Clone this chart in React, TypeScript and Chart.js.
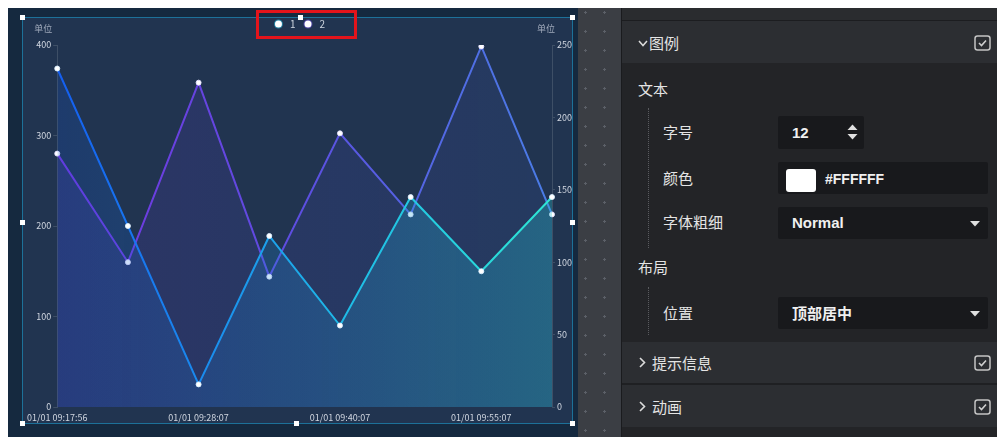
import React, { useEffect, useRef } from "react";
import { Chart, registerables } from "chart.js";

Chart.register(...registerables);

// ---- data ----
const categories = [
  "01/01 09:17:56",
  "01/01 09:22:56",
  "01/01 09:28:07",
  "01/01 09:34:07",
  "01/01 09:40:07",
  "01/01 09:47:37",
  "01/01 09:55:07",
  "01/01 10:02:07",
];
const series1 = [374, 200, 25, 189, 90, 232, 150, 232];
const series2 = [175, 100, 224, 90, 189, 133, 249, 133];
const seriesNames = ["1", "2"];
const leftTickValues = [0, 100, 200, 300, 400];
const rightTickValues = [0, 50, 100, 150, 200, 250];
const unitLabel = "单位";

const FONT = '"Noto Sans CJK SC", "Noto Sans", sans-serif';

function hGrad(chart: any, stops: [number, string][]) {
  const { ctx, chartArea } = chart;
  if (!chartArea) return stops[0][1];
  const g = ctx.createLinearGradient(chartArea.left, 0, chartArea.right, 0);
  stops.forEach(([o, c]) => g.addColorStop(o, c));
  return g;
}

const s1Line: [number, string][] = [
  [0, "#155ef0"],
  [0.3, "#1a8cee"],
  [0.6, "#1fbde6"],
  [1, "#2ee6d4"],
];
const s1Fill: [number, string][] = [
  [0, "rgba(20,90,220,0.2)"],
  [1, "rgba(40,200,210,0.3)"],
];
const s2Line: [number, string][] = [
  [0, "#7434e0"],
  [0.5, "#5c4fe0"],
  [1, "#4a7de6"],
];
const s2Fill: [number, string][] = [
  [0, "rgba(110,60,230,0.15)"],
  [1, "rgba(70,110,230,0.11)"],
];
const legendRing = ["#22c4ea", "#6a4fe2"];

const overlayPlugin = {
  id: "overlay",
  afterDraw(chart: any) {
    const ctx = chart.ctx;
    const l = chart.scales.y;
    const r = chart.scales.y1;
    ctx.save();
    ctx.font = `9px ${FONT}`;
    ctx.fillStyle = "#a0aabb";
    ctx.textAlign = "center";
    ctx.textBaseline = "middle";
    ctx.fillText(unitLabel, l.right - 14, 12);
    ctx.fillText(unitLabel, r.left - 6, 12);

    // legend
    ctx.font = `10px ${FONT}`;
    const radius = 3.5;
    const markerToText = 8;
    const gap = 9;
    const widths = seriesNames.map((n) => radius * 2 + markerToText + ctx.measureText(n).width);
    const total = widths.reduce((a, b) => a + b, 0) + gap * (widths.length - 1);
    let x = chart.width / 2 + 3 - total / 2;
    const y = 7;
    seriesNames.forEach((n, i) => {
      const cx = x + radius;
      ctx.beginPath();
      ctx.arc(cx, y, radius + 1, 0, Math.PI * 2);
      ctx.fillStyle = legendRing[i];
      ctx.globalAlpha = 0.55;
      ctx.fill();
      ctx.globalAlpha = 1;
      ctx.beginPath();
      ctx.arc(cx, y, radius, 0, Math.PI * 2);
      ctx.fillStyle = "#ffffff";
      ctx.fill();
      ctx.fillStyle = "#ccd4de";
      ctx.textAlign = "left";
      ctx.fillText(n, x + radius * 2 + markerToText, y);
      x += widths[i] + gap;
    });
    ctx.restore();
  },
};

function ChartBox() {
  const ref = useRef<HTMLCanvasElement>(null);
  useEffect(() => {
    if (!ref.current) return;
    const tickFont = { family: FONT, size: 9 };
    const chart = new Chart(ref.current, {
      type: "line",
      data: {
        labels: categories,
        datasets: [
          {
            label: seriesNames[0],
            data: series1,
            yAxisID: "y",
            borderWidth: 2,
            borderColor: (c: any) => hGrad(c.chart, s1Line),
            backgroundColor: (c: any) => hGrad(c.chart, s1Fill),
            fill: "origin",
            tension: 0,
            pointRadius: 2.5,
            pointBackgroundColor: "#ffffff",
            pointBorderColor: "rgba(220,240,255,0.9)",
            pointBorderWidth: 1,
          },
          {
            label: seriesNames[1],
            data: series2,
            yAxisID: "y1",
            borderWidth: 2,
            borderColor: (c: any) => hGrad(c.chart, s2Line),
            backgroundColor: (c: any) => hGrad(c.chart, s2Fill),
            fill: "origin",
            tension: 0,
            pointRadius: 2.5,
            pointBackgroundColor: "#ffffff",
            pointBorderColor: "rgba(230,225,255,0.9)",
            pointBorderWidth: 1,
          },
        ],
      },
      options: {
        animation: false,
        responsive: false,
        maintainAspectRatio: false,
        layout: { padding: { top: 28, left: 0, right: 0, bottom: 0 } },
        plugins: {
          legend: { display: false },
          tooltip: { enabled: false },
        },
        scales: {
          x: {
            offset: false,
            grid: { display: false, drawTicks: false, tickLength: 0 },
            border: { display: false },
            ticks: {
              autoSkip: false,
              maxRotation: 0,
              minRotation: 0,
              padding: 5,
              color: "#d0d6e0",
              font: tickFont,
              callback: (_v: any, i: number) => (i % 2 === 0 ? categories[i] : ""),
            },
            afterFit: (s: any) => {
              s.height = 16;
            },
          },
          y: {
            position: "left",
            min: leftTickValues[0],
            max: leftTickValues[leftTickValues.length - 1],
            grid: {
              display: true,
              drawOnChartArea: false,
              drawTicks: true,
              tickLength: 4,
              color: "#3e4f66",
            },
            border: { display: true, color: "#3e4f66", width: 1 },
            ticks: {
              stepSize: leftTickValues[1] - leftTickValues[0],
              padding: 2,
              color: "#d0d6e0",
              font: tickFont,
            },
            afterFit: (s: any) => {
              s.width = 33;
            },
          },
          y1: {
            position: "right",
            min: rightTickValues[0],
            max: rightTickValues[rightTickValues.length - 1],
            grid: {
              display: true,
              drawOnChartArea: false,
              drawTicks: true,
              tickLength: 3,
              color: "#3e4f66",
            },
            border: { display: true, color: "#3e4f66", width: 1 },
            ticks: {
              stepSize: rightTickValues[1] - rightTickValues[0],
              padding: 2,
              color: "#d0d6e0",
              font: tickFont,
            },
            afterFit: (s: any) => {
              s.width = 20;
            },
          },
        },
      } as any,
      plugins: [overlayPlugin],
    });
    return () => chart.destroy();
  }, []);
  return (
    <canvas
      ref={ref}
      width={550}
      height={406}
      style={{ position: "absolute", left: 0, top: 0, width: 550, height: 406 }}
    />
  );
}

// helpers (page coordinates -> root coordinates, root is at 8,8)
const P = (x: number) => x - 8;

function Box(props: { x: number; y: number; w: number; h: number; style?: any; children?: any }) {
  return (
    <div
      style={{
        position: "absolute",
        left: P(props.x),
        top: P(props.y),
        width: props.w,
        height: props.h,
        boxSizing: "border-box",
        ...props.style,
      }}
    >
      {props.children}
    </div>
  );
}

function T(props: { x: number; y: number; size?: number; weight?: any; color?: string; font?: string; children: any }) {
  const h = 24;
  return (
    <div
      style={{
        position: "absolute",
        left: P(props.x),
        top: P(props.y) - h / 2,
        height: h,
        lineHeight: `${h}px`,
        fontSize: props.size ?? 15,
        fontWeight: props.weight ?? "normal",
        color: props.color ?? "#e4e4e4",
        fontFamily: props.font ?? FONT,
        whiteSpace: "nowrap",
      }}
    >
      {props.children}
    </div>
  );
}

function Handle({ x, y }: { x: number; y: number }) {
  return <Box x={x - 2.5} y={y - 2.5} w={5} h={5} style={{ background: "#ffffff" }} />;
}

function CheckBox({ x, y }: { x: number; y: number }) {
  return (
    <svg style={{ position: "absolute", left: P(x), top: P(y) }} width={17} height={16}>
      <rect x={1} y={1} width={15} height={14} rx={2.5} fill="none" stroke="#c4c4c4" strokeWidth={1.5} />
      <polyline points="5,8 7.5,10.5 12,5.5" fill="none" stroke="#d0d0d0" strokeWidth={1.6} />
    </svg>
  );
}

function Caret({ x, y }: { x: number; y: number }) {
  return (
    <svg style={{ position: "absolute", left: P(x), top: P(y) }} width={10} height={6}>
      <polygon points="0,0 10,0 5,5.5" fill="#e0e0e0" />
    </svg>
  );
}

function ChevronDown({ x, y }: { x: number; y: number }) {
  return (
    <svg style={{ position: "absolute", left: P(x), top: P(y) }} width={10} height={7}>
      <polyline points="1,1 5,5.5 9,1" fill="none" stroke="#dcdcdc" strokeWidth={1.5} />
    </svg>
  );
}

function ChevronRight({ x, y }: { x: number; y: number }) {
  return (
    <svg style={{ position: "absolute", left: P(x), top: P(y) }} width={7} height={11}>
      <polyline points="1,1 5.5,5.5 1,10" fill="none" stroke="#dcdcdc" strokeWidth={1.6} />
    </svg>
  );
}

export default function App() {
  const latin = '"Liberation Sans", Arial, sans-serif';
  return (
    <div
      style={{
        position: "fixed",
        left: 8,
        top: 8,
        width: 989,
        height: 429,
        overflow: "hidden",
        background: "#232427",
      }}
    >
      {/* chart widget background */}
      <Box x={8} y={8} w={570} h={429} style={{ background: "#15293f" }} />
      <Box x={22} y={17} w={550} h={406} style={{ background: "#213450" }}>
        <ChartBox />
      </Box>
      <Box x={22} y={17} w={551} h={407} style={{ border: "1px solid #1d7199", pointerEvents: "none" }} />
      <Handle x={22} y={17} />
      <Handle x={300} y={17} />
      <Handle x={572} y={17} />
      <Handle x={22} y={222} />
      <Handle x={572} y={222} />
      <Handle x={22} y={423} />
      <Handle x={296} y={423} />
      <Handle x={572} y={423} />
      {/* red highlight around legend */}
      <Box x={256} y={10} w={101} h={29} style={{ border: "3px solid #e3141b" }} />

      {/* dotted canvas strip */}
      <Box
        x={578}
        y={8}
        w={43}
        h={429}
        style={{
          background: "#3b3e44",
          backgroundImage: "radial-gradient(circle, #5c6068 1px, rgba(0,0,0,0) 1.3px)",
          backgroundSize: "19px 19px",
          backgroundPosition: "-2px -5px",
        }}
      />
      <Box x={621} y={8} w={1} h={429} style={{ background: "#1a1b1e" }} />

      {/* settings panel */}
      <Box x={622} y={8} w={375} h={429} style={{ background: "#232427" }} />
      <Box x={622} y={8} w={375} h={12} style={{ background: "#2a2c2f" }} />
      <Box x={622} y={20} w={375} h={1} style={{ background: "#1c1d20" }} />
      <Box x={622} y={21} w={375} h={42} style={{ background: "#2c2e32" }} />
      <ChevronDown x={638} y={40} />
      <T x={649} y={43} size={15}>图例</T>
      <CheckBox x={974} y={35} />

      <T x={638} y={89} size={15}>文本</T>
      <Box x={648} y={108} w={1} h={140} style={{ borderLeft: "1px dotted #5a5b5f" }} />
      <T x={663} y={132} size={15}>字号</T>
      <Box x={778} y={116} w={86} h={33} style={{ background: "#18191c", borderRadius: 2 }} />
      <T x={792} y={133} size={15} weight="bold" font={latin} color="#f0f0f0">12</T>
      <svg style={{ position: "absolute", left: P(847), top: P(124) }} width={11} height={17}>
        <polygon points="0.5,6 10.5,6 5.5,0.5" fill="#e0e0e0" />
        <polygon points="0.5,10 10.5,10 5.5,15.5" fill="#e0e0e0" />
      </svg>

      <T x={663} y={178} size={15}>颜色</T>
      <Box x={778} y={162} w={210} h={32} style={{ background: "#18191c", borderRadius: 2 }} />
      <Box x={786} y={169} w={30} h={23} style={{ background: "#ffffff", borderRadius: 3 }} />
      <T x={825} y={179} size={14} weight="bold" font={latin} color="#f0f0f0">#FFFFFF</T>

      <T x={663} y={222} size={15}>字体粗细</T>
      <Box x={778} y={207} w={210} h={32} style={{ background: "#18191c", borderRadius: 2 }} />
      <T x={792} y={223} size={15} weight="bold" font={latin} color="#f0f0f0">Normal</T>
      <Caret x={970} y={221} />

      <T x={638} y={267} size={15}>布局</T>
      <Box x={648} y={287} w={1} h={48} style={{ borderLeft: "1px dotted #5a5b5f" }} />
      <T x={663} y={313} size={15}>位置</T>
      <Box x={778} y={297} w={210} h={32} style={{ background: "#18191c", borderRadius: 2 }} />
      <T x={792} y={313} size={15} weight="bold" color="#f0f0f0">顶部居中</T>
      <Caret x={970} y={311} />

      <Box x={622} y={342} w={375} h={41} style={{ background: "#2c2e32" }} />
      <Box x={622} y={383} w={375} h={2} style={{ background: "#1f2023" }} />
      <Box x={622} y={385} w={375} h={42} style={{ background: "#2c2e32" }} />
      <ChevronRight x={639} y={357} />
      <T x={652} y={363} size={15}>提示信息</T>
      <CheckBox x={974} y={355} />
      <ChevronRight x={639} y={401} />
      <T x={652} y={407} size={15}>动画</T>
      <CheckBox x={974} y={399} />
    </div>
  );
}
